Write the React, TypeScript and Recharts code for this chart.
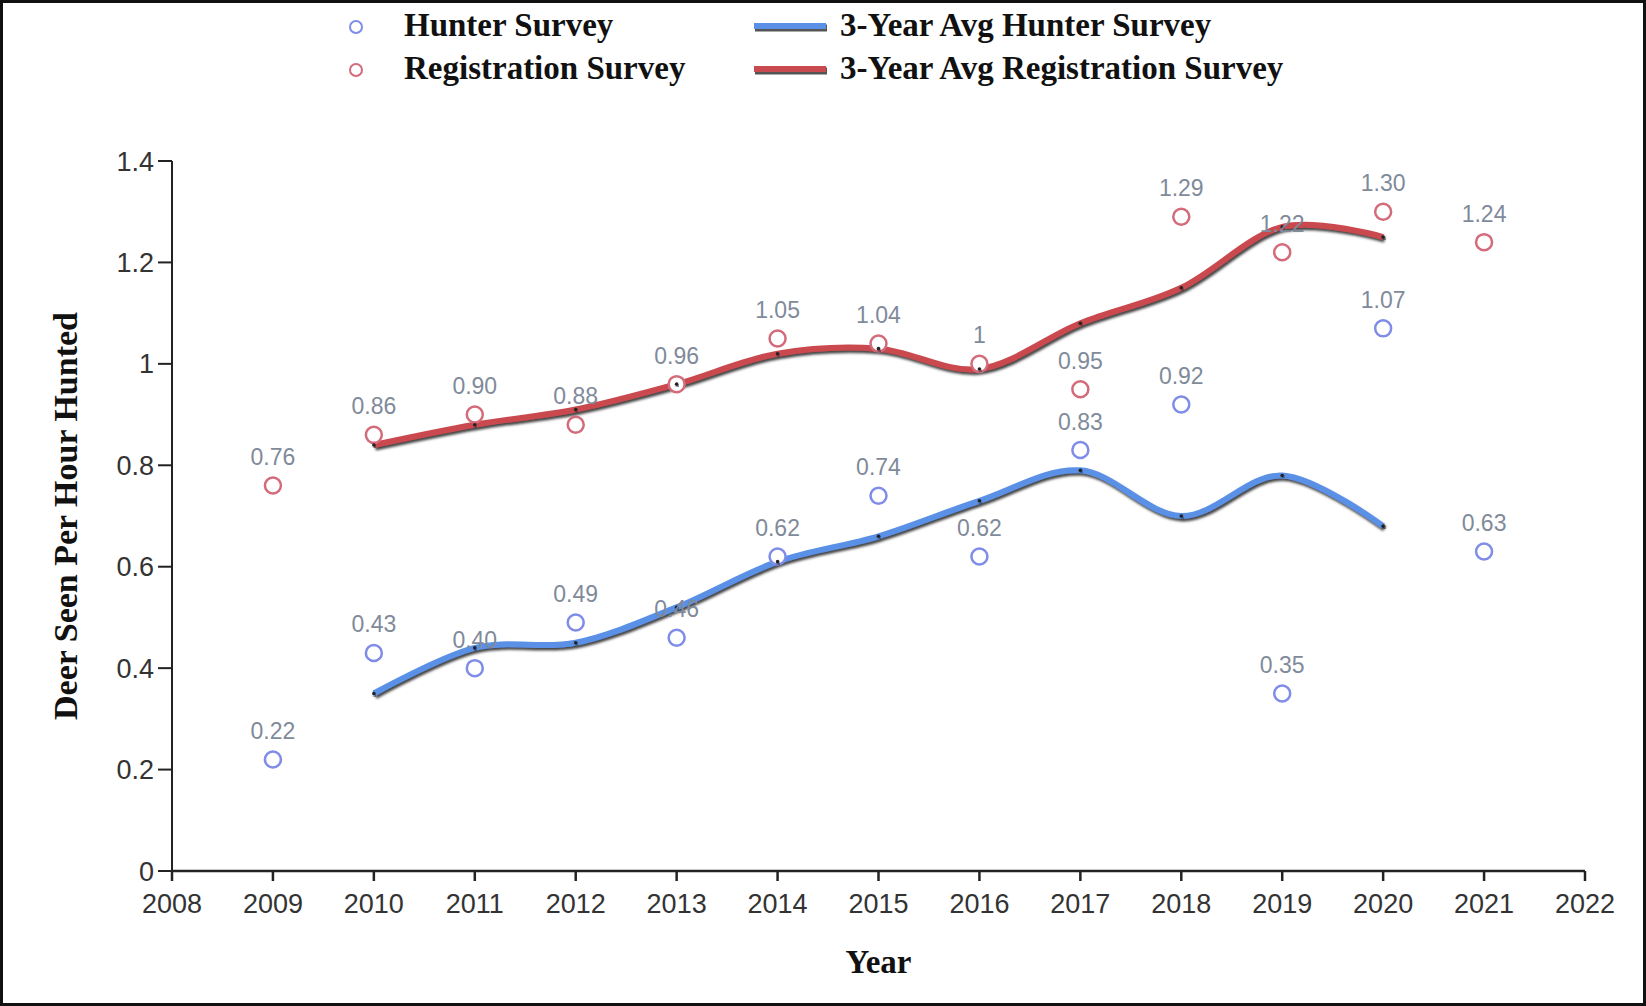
import React from "react";
import { ComposedChart, Legend, LabelList, Line, Scatter, XAxis, YAxis } from "recharts";

const years = [2009, 2010, 2011, 2012, 2013, 2014, 2015, 2016, 2017, 2018, 2019, 2020, 2021];
const hunterSurvey = [0.22, 0.43, 0.4, 0.49, 0.46, 0.62, 0.74, 0.62, 0.83, 0.92, 0.35, 1.07, 0.63];
const registrationSurvey = [0.76, 0.86, 0.9, 0.88, 0.96, 1.05, 1.04, 1.0, 0.95, 1.29, 1.22, 1.3, 1.24];

const avgYears = [2010, 2011, 2012, 2013, 2014, 2015, 2016, 2017, 2018, 2019, 2020];
const hunterAvg = [0.35, 0.44, 0.45, 0.52, 0.61, 0.66, 0.73, 0.79, 0.7, 0.78, 0.68];
const registrationAvg = [0.84, 0.88, 0.91, 0.96, 1.02, 1.03, 0.99, 1.08, 1.15, 1.27, 1.25];

const xTicks = [2008, 2009, 2010, 2011, 2012, 2013, 2014, 2015, 2016, 2017, 2018, 2019, 2020, 2021, 2022];
const yTicks = [0, 0.2, 0.4, 0.6, 0.8, 1, 1.2, 1.4];

const HUNTER_PT = "#7f8ce8";
const REG_PT = "#d36b7a";
const HUNTER_LINE = "#5a90e6";
const REG_LINE = "#c94a4f";

const toPoints = (xs: number[], ys: number[]) => xs.map((year, i) => ({ year, value: ys[i] }));

const hunterData = toPoints(years, hunterSurvey);
const regData = toPoints(years, registrationSurvey);
const hunterAvgData = toPoints(avgYears, hunterAvg);
const regAvgData = toPoints(avgYears, registrationAvg);

const fmtLabel = (v: any) => (Number.isInteger(v) ? String(v) : Number(v).toFixed(2));
const fmtY = (v: any) => String(Number(Number(v).toFixed(1)));

// catmull-rom style cardinal spline (same as d3 curveCardinal, tension 0)
const cardinal = (context: any) => {
  const k = 1 / 6;
  let x0 = NaN, x1 = NaN, x2 = NaN, y0 = NaN, y1 = NaN, y2 = NaN, pt = 0, line = NaN;
  const seg = (x: number, y: number) => {
    context.bezierCurveTo(x1 + k * (x2 - x0), y1 + k * (y2 - y0), x2 + k * (x1 - x), y2 + k * (y1 - y), x2, y2);
  };
  return {
    areaStart() { line = 0; },
    areaEnd() { line = NaN; },
    lineStart() { x0 = x1 = x2 = y0 = y1 = y2 = NaN; pt = 0; },
    lineEnd() {
      if (pt === 2) context.lineTo(x2, y2);
      else if (pt === 3) seg(x1, y1);
      if (line || (line !== 0 && pt === 1)) context.closePath();
      line = 1 - line;
    },
    point(x: number, y: number) {
      x = +x; y = +y;
      if (pt === 0) { pt = 1; line ? context.lineTo(x, y) : context.moveTo(x, y); }
      else if (pt === 1) { pt = 2; x1 = x; y1 = y; }
      else { pt = 3; seg(x, y); }
      x0 = x1; x1 = x2; x2 = x;
      y0 = y1; y1 = y2; y2 = y;
    },
  };
};

const legendFont = { fontFamily: "'Liberation Serif', 'Times New Roman', serif", fontWeight: 700, fontSize: 33, color: "#111" };

const CustomLegend = () => {
  const rows = [
    { left: { text: "Hunter Survey", color: HUNTER_PT }, right: { text: "3-Year Avg Hunter Survey", color: HUNTER_LINE } },
    { left: { text: "Registration Survey", color: REG_PT }, right: { text: "3-Year Avg Registration Survey", color: REG_LINE } },
  ];
  return (
    <div style={{ position: "relative", width: 1640, height: 100 }}>
      {rows.map((r, i) => (
        <React.Fragment key={i}>
          <svg style={{ position: "absolute", left: 343, top: 14 + i * 43 }} width={20} height={20}>
            <circle cx={10} cy={10} r={6} fill="#fff" stroke={r.left.color} strokeWidth={2} />
          </svg>
          <div style={{ ...legendFont, position: "absolute", left: 401, top: i * 43, lineHeight: "44px", whiteSpace: "nowrap" }}>
            {r.left.text}
          </div>
          <svg style={{ position: "absolute", left: 746, top: 14 + i * 43 }} width={84} height={20}>
            <line x1={6} y1={11} x2={78} y2={11} stroke="#555" strokeWidth={7} />
            <line x1={5} y1={9} x2={77} y2={9} stroke={r.right.color} strokeWidth={6} />
          </svg>
          <div style={{ ...legendFont, position: "absolute", left: 837, top: i * 43, lineHeight: "44px", whiteSpace: "nowrap" }}>
            {r.right.text}
          </div>
        </React.Fragment>
      ))}
    </div>
  );
};

const YLabel = (props: any) => {
  const { viewBox } = props;
  const cx = 62;
  const cy = viewBox.y + viewBox.height / 2;
  return (
    <text
      x={cx}
      y={cy}
      transform={`rotate(-90, ${cx}, ${cy})`}
      textAnchor="middle"
      dominantBaseline="central"
      style={{ fontFamily: "'Liberation Serif', 'Times New Roman', serif", fontWeight: 700, fontSize: 34, fill: "#111" }}
    >
      Deer Seen Per Hour Hunted
    </text>
  );
};

const XLabel = (props: any) => {
  const { viewBox } = props;
  return (
    <text
      x={viewBox.x + viewBox.width / 2}
      y={959}
      textAnchor="middle"
      dominantBaseline="central"
      style={{ fontFamily: "'Liberation Serif', 'Times New Roman', serif", fontWeight: 700, fontSize: 33, fill: "#111" }}
    >
      Year
    </text>
  );
};

const ring = (color: string) => (props: any) => (
  <circle cx={props.cx} cy={props.cy} r={8} fill="#fff" stroke={color} strokeWidth={2.5} />
);

const labelStyle = { fontFamily: "'Liberation Sans', Arial, sans-serif", fontSize: 23, fill: "#7f8a9a" };
const tickStyle = { fontFamily: "'Liberation Sans', Arial, sans-serif", fontSize: 27, fill: "#333" };

const App = () => {
  return (
    <div
      style={{
        position: "absolute",
        left: 0,
        top: 0,
        width: 1646,
        height: 1006,
        border: "3px solid #111",
        boxSizing: "border-box",
        background: "#fff",
      }}
    >
      <ComposedChart width={1640} height={1000} margin={{ top: 58, right: 58, bottom: 72, left: 69 }}>
        <defs>
          <filter id="lineShadow" x="-5%" y="-20%" width="110%" height="140%">
            <feDropShadow dx={1.5} dy={2.5} stdDeviation={0.8} floodColor="#333" floodOpacity={0.9} />
          </filter>
        </defs>
        <XAxis
          type="number"
          dataKey="year"
          domain={[2008, 2022]}
          ticks={xTicks}
          interval={0}
          allowDuplicatedCategory={false}
          height={60}
          tickSize={10}
          tickMargin={13}
          tick={tickStyle}
          stroke="#222"
          strokeWidth={2.5}
          label={<XLabel />}
        />
        <YAxis
          type="number"
          dataKey="value"
          domain={[0, 1.4]}
          ticks={yTicks}
          interval={0}
          width={100}
          tickSize={14}
          tickMargin={4}
          tick={tickStyle}
          tickFormatter={fmtY}
          stroke="#222"
          strokeWidth={2}
          label={<YLabel />}
        />
        <Scatter name="Hunter Survey" data={hunterData} shape={ring(HUNTER_PT)} isAnimationActive={false}>
          <LabelList dataKey="value" position="top" offset={16} formatter={fmtLabel} style={labelStyle} />
        </Scatter>
        <Scatter name="Registration Survey" data={regData} shape={ring(REG_PT)} isAnimationActive={false}>
          <LabelList dataKey="value" position="top" offset={16} formatter={fmtLabel} style={labelStyle} />
        </Scatter>
        <Line
          name="3-Year Avg Hunter Survey"
          data={hunterAvgData}
          dataKey="value"
          type={cardinal as any}
          stroke={HUNTER_LINE}
          strokeWidth={6}
          filter="url(#lineShadow)"
          dot={{ r: 1.8, fill: "#222", stroke: "none" }}
          activeDot={false}
          isAnimationActive={false}
        />
        <Line
          name="3-Year Avg Registration Survey"
          data={regAvgData}
          dataKey="value"
          type={cardinal as any}
          stroke={REG_LINE}
          strokeWidth={6}
          filter="url(#lineShadow)"
          dot={{ r: 1.8, fill: "#222", stroke: "none" }}
          activeDot={false}
          isAnimationActive={false}
        />
        <Legend verticalAlign="top" content={<CustomLegend />} wrapperStyle={{ top: 0, left: 0, width: 1640, height: 100 }} />
      </ComposedChart>
    </div>
  );
};

export default App;
